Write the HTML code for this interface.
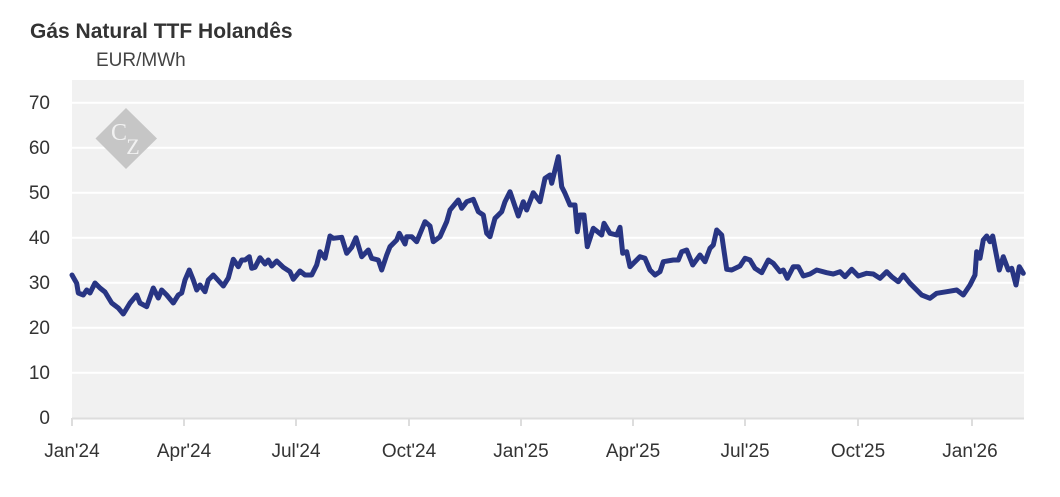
<!DOCTYPE html>
<html><head><meta charset="utf-8"><style>
body{margin:0;background:#fff;width:1060px;height:492px;overflow:hidden;font-family:"Liberation Sans",sans-serif;}
</style></head><body>
<svg width="1060" height="492" xmlns="http://www.w3.org/2000/svg" font-family="Liberation Sans, sans-serif">
<text x="30" y="38" font-size="21" font-weight="bold" fill="#333">Gás Natural TTF Holandês</text>
<text x="96" y="66" font-size="19" fill="#444">EUR/MWh</text>
<rect x="72" y="80" width="952" height="338" fill="#f1f1f1"/>
<g stroke="#fff" stroke-width="2">
<line x1="72" x2="1024" y1="102.7" y2="102.7"/><line x1="72" x2="1024" y1="147.7" y2="147.7"/>
<line x1="72" x2="1024" y1="192.7" y2="192.7"/><line x1="72" x2="1024" y1="237.7" y2="237.7"/>
<line x1="72" x2="1024" y1="282.7" y2="282.7"/><line x1="72" x2="1024" y1="327.7" y2="327.7"/>
<line x1="72" x2="1024" y1="372.7" y2="372.7"/>
</g>
<polygon points="126,108 157,138.5 126,169 95.5,138.5" fill="#c6c6c6"/>
<text x="119" y="140" font-size="24" font-family="Liberation Serif, serif" fill="#f1f1f1" text-anchor="middle">C</text>
<text x="133" y="154" font-size="22" font-family="Liberation Serif, serif" fill="#f1f1f1" text-anchor="middle">Z</text>
<g stroke="#ddd" stroke-width="2">
<line x1="72" x2="1024" y1="418.5" y2="418.5"/>
<line x1="72" x2="72" y1="418" y2="426"/><line x1="184" x2="184" y1="418" y2="426"/>
<line x1="296" x2="296" y1="418" y2="426"/><line x1="409" x2="409" y1="418" y2="426"/>
<line x1="521" x2="521" y1="418" y2="426"/><line x1="633" x2="633" y1="418" y2="426"/>
<line x1="745" x2="745" y1="418" y2="426"/><line x1="858" x2="858" y1="418" y2="426"/>
<line x1="972" x2="972" y1="418" y2="426"/>
</g>
<g font-size="19" fill="#333" text-anchor="end">
<text x="50" y="109">70</text><text x="50" y="154">60</text><text x="50" y="199">50</text>
<text x="50" y="244">40</text><text x="50" y="289">30</text><text x="50" y="334">20</text>
<text x="50" y="379">10</text><text x="50" y="424">0</text>
</g>
<g font-size="19" fill="#333" text-anchor="middle">
<text x="72" y="457">Jan'24</text><text x="184" y="457">Apr'24</text><text x="296" y="457">Jul'24</text>
<text x="409" y="457">Oct'24</text><text x="521" y="457">Jan'25</text><text x="633" y="457">Apr'25</text>
<text x="745" y="457">Jul'25</text><text x="858" y="457">Oct'25</text><text x="970" y="457">Jan'26</text>
</g>
<polyline fill="none" stroke="#283583" stroke-width="5" stroke-linejoin="round" stroke-linecap="round" points="
72,275 76.7,283.3 78.3,293 83.3,295 86.7,290 90,293 95,283 100,288 105,292 111.7,303 118.3,308 123.3,314 130,303 136.7,295 140,303 146.7,306.7 153.3,288 158.3,298 161.7,290 166.7,295 173.3,303 178.3,295 181.7,293 185,280 189.3,270 193.3,280 196.7,290 200,285 205,291.7 208.3,280 213.3,275 223.3,286 228.3,278 233.3,259.3 238.3,266.7 241.7,260 245,260 249.3,256.7 251.7,268.3 255,267.3 260,257.7 265,264 268.3,260 271.7,266 276.7,261 283.3,267.3 290,271.7 293.3,279.3 300,271 305,275 311.7,275 316.7,265 320,251.7 325,258.3 330,236 333.3,238.3 341.7,237.3 346.7,253.3 351.7,247.3 356,237.7 361.7,256.7 368.3,250 371.7,258.3 378.3,260 381.7,270 386.7,255 390,246.7 396.7,240 399.3,233.3 405,244 406.7,236.7 411.7,236.7 416.7,241.7 425,221.7 430,226 433.3,241.7 440,236.7 446.7,221.7 450,210 458.3,200 461.7,208.3 466.7,201.7 473.3,199.3 478.3,211.7 483.3,215 486.7,233.3 490,236.7 495,218.3 501.7,211.7 505,201.7 510,191.7 518.3,216 523.3,201.7 526.7,210 533.3,192.7 540,201.7 545,178.3 550,175 551.7,183.3 558.3,156.7 561.7,186.7 565,193.3 570,205 575,205 577.3,231.7 580,215 584,215 587.3,246.7 593.3,228.3 601.7,235 604,223.3 610,233.3 616.7,235 620,227.3 622.7,253.3 626.7,251.7 630,266.7 640,256.7 645,258.3 650,270 655,275 660,271.7 663.3,261.7 673.3,260 678.3,260 681.7,251.7 686.7,250 692.7,265 700,255 705,261.7 710,248.3 713.3,245 716.7,230 721.7,235 726.7,269.3 731.7,270 740,266 745,258.3 750,260 755,268.3 761.7,272.7 768.3,260 773.3,263.3 780,271.7 783.3,270 787.3,278.3 793.3,266.7 798.3,266.7 803.3,276 810,274 816.7,270 826.7,272.7 833.3,274 840,271.7 845,276.7 851.7,269.3 858.3,276 866.7,273.3 873.3,274 880,278.3 886.7,271.7 891.7,276.7 898.3,281.7 903.3,275 910,283.3 921.7,295 930,298.3 936.7,293.3 946.7,291.7 956.7,290 963.3,295 970,285 975,275 976.7,251.7 980,258.3 983.3,240 986.7,236 990,241.7 992.7,236 996.7,256.7 999.3,270 1003.3,256.7 1008.3,270 1011.7,268.3 1016,285 1019.3,266.7 1023.3,273.3"/>
</svg>
</body></html>
